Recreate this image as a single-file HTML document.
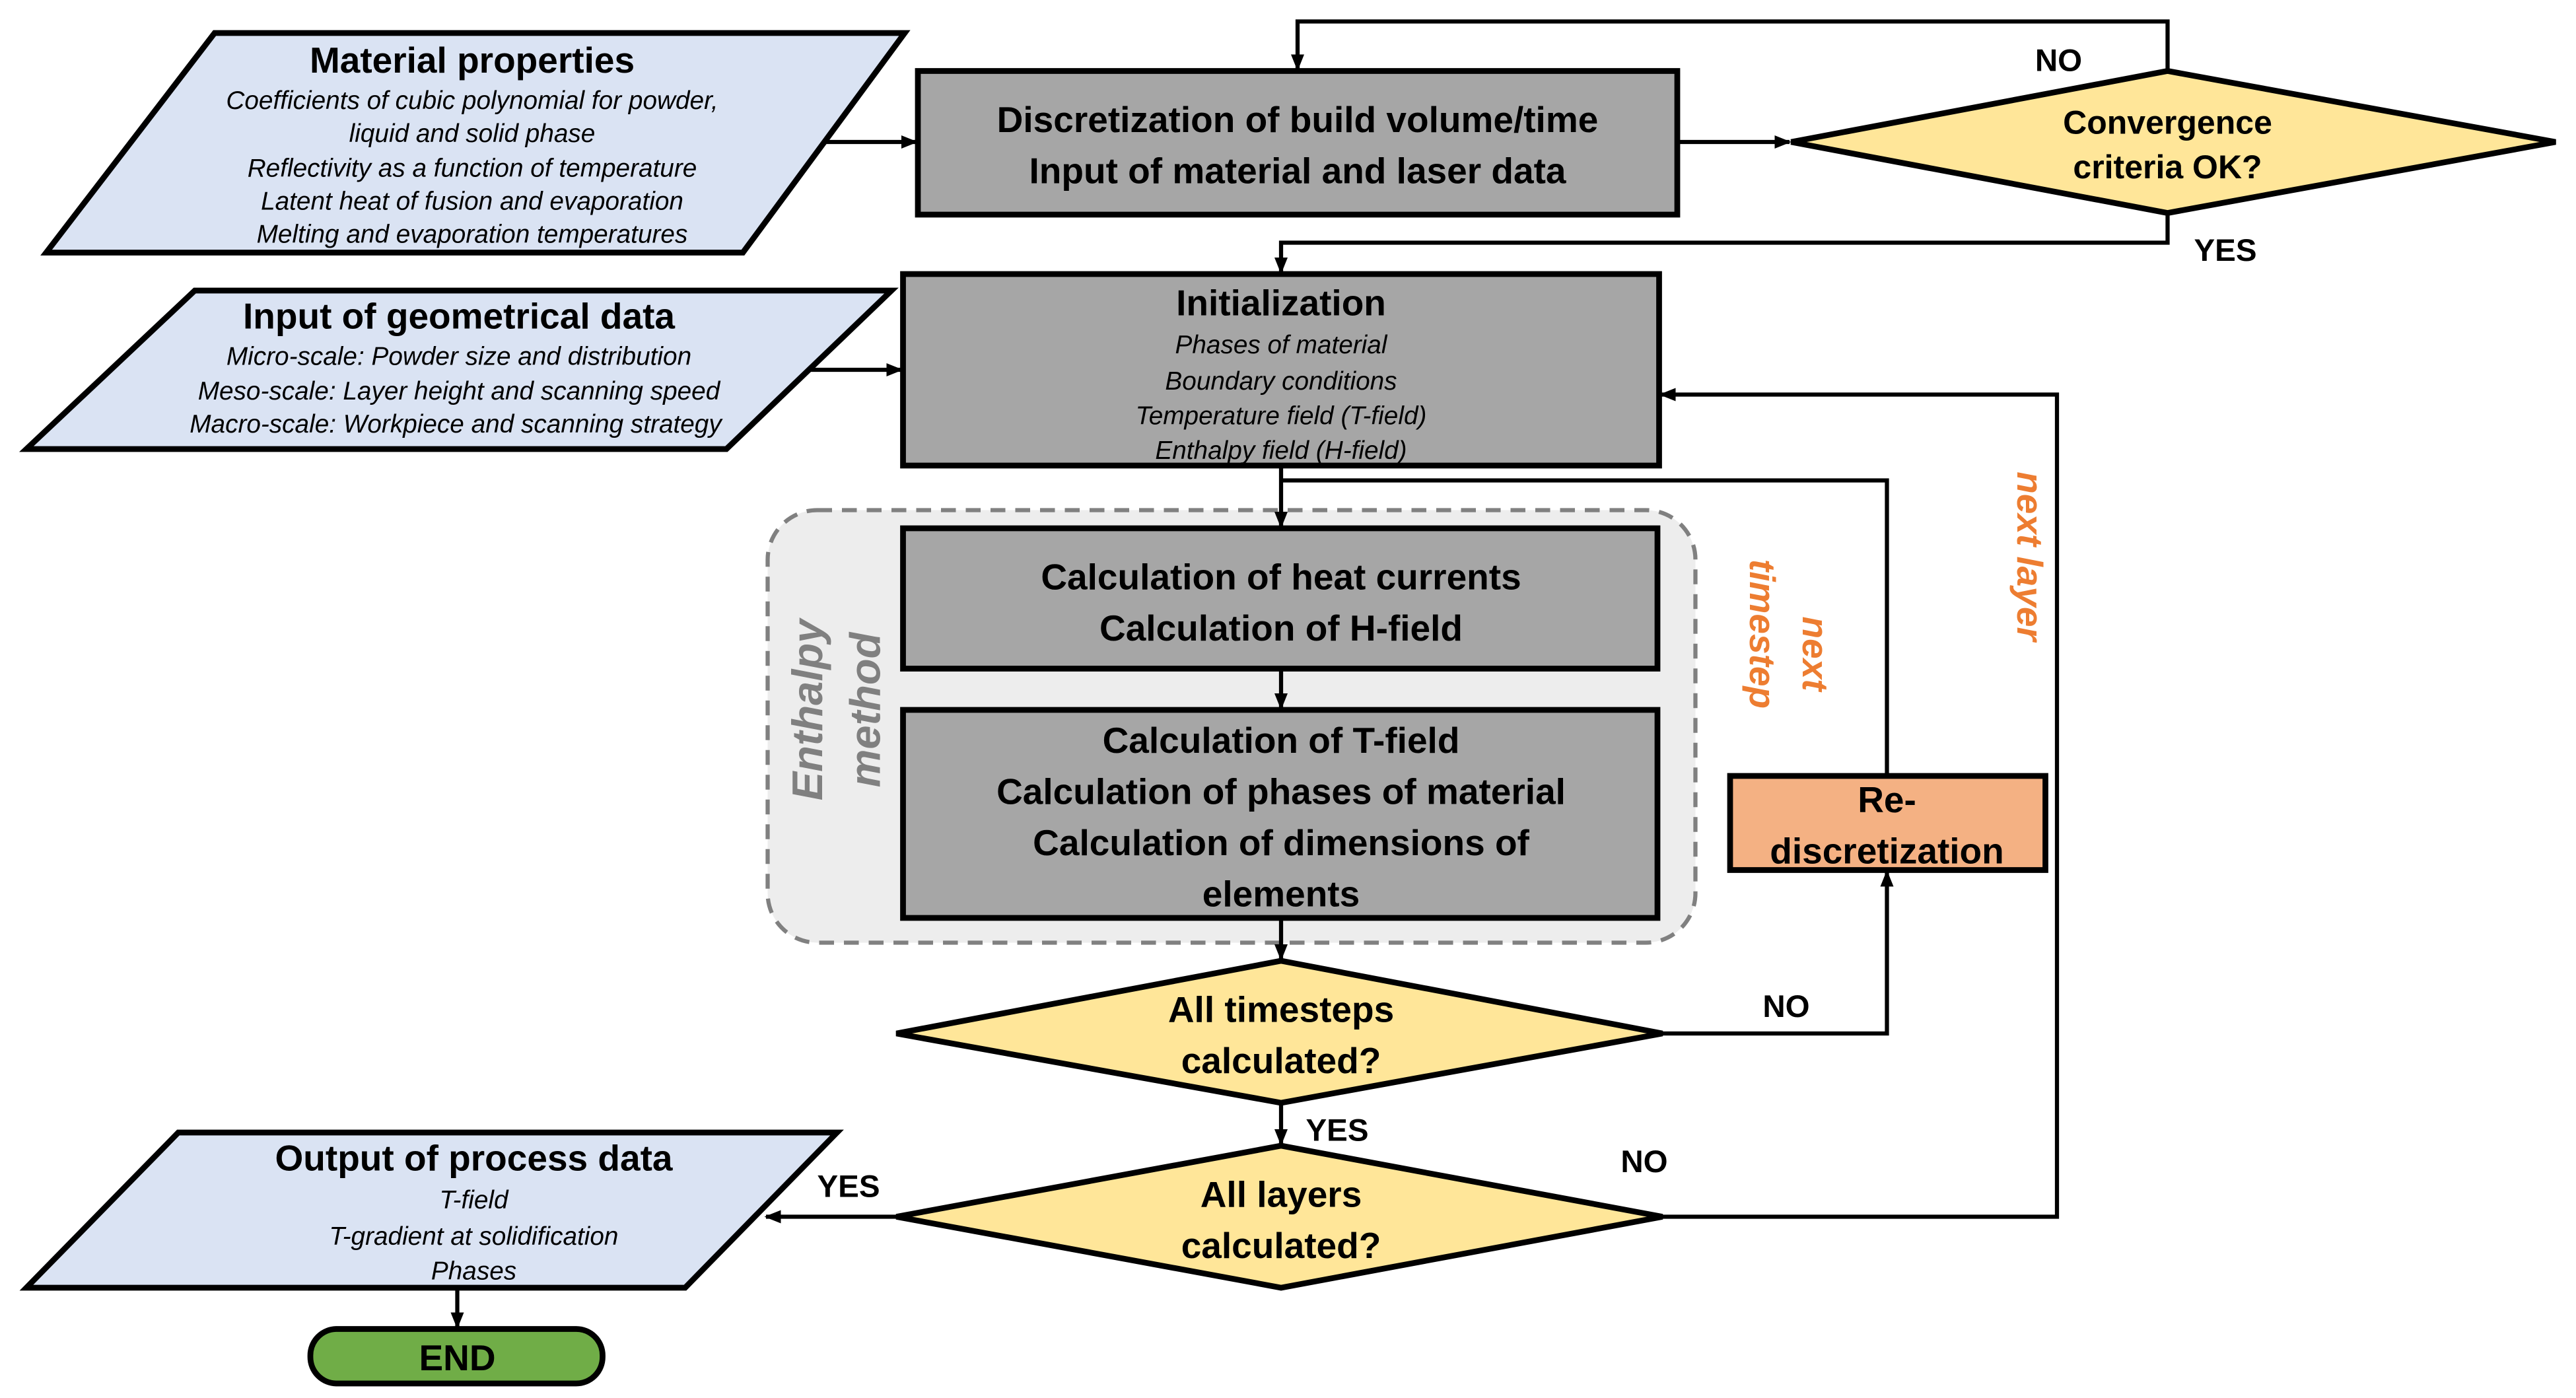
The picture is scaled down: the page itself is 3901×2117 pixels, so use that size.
<!DOCTYPE html>
<html><head><meta charset="utf-8"><style>html,body{margin:0;padding:0;background:#fff}svg{display:block}</style></head>
<body>
<svg width="3901" height="2117" viewBox="0 0 1560.4 846.8" xmlns="http://www.w3.org/2000/svg" font-family="Liberation Sans, Arial, sans-serif">
<defs><marker id="a" markerWidth="10" markerHeight="10" refX="9" refY="5" orient="auto" markerUnits="userSpaceOnUse"><path d="M0,1 L10,5 L0,9 z" fill="#000"/></marker></defs>
<rect x="465" y="309" width="562" height="262" rx="30" fill="#ededed" stroke="#808080" stroke-width="2.5" stroke-dasharray="9,6"/>
<g fill="none" stroke="#000" stroke-width="2.5">
<path d="M497,86 L555,86" marker-end="url(#a)"/>
<path d="M1016,86 L1084,86" marker-end="url(#a)"/>
<path d="M1313,43 L1313,13 L786,13 L786,42" marker-end="url(#a)"/>
<path d="M1313,129 L1313,147 L776,147 L776,165" marker-end="url(#a)"/>
<path d="M488,224 L546,224" marker-end="url(#a)"/>
<path d="M776,282 L776,319" marker-end="url(#a)"/>
<path d="M1143,470 L1143,291 L776,291"/>
<path d="M776,405 L776,429" marker-end="url(#a)"/>
<path d="M776,556 L776,581" marker-end="url(#a)"/>
<path d="M1007,626 L1143,626 L1143,528" marker-end="url(#a)"/>
<path d="M776,668 L776,693" marker-end="url(#a)"/>
<path d="M1007,737 L1246,737 L1246,239 L1006,239" marker-end="url(#a)"/>
<path d="M543,737 L464,737" marker-end="url(#a)"/>
<path d="M277,780 L277,804" marker-end="url(#a)"/>
</g>
<g stroke="#000" stroke-width="3.5">
<polygon points="130,20 548,20 450,153 28,153" fill="#dae3f3"/>
<polygon points="118,176 540,176 440,272 16,272" fill="#dae3f3"/>
<polygon points="108,686 507,686 415,780 16,780" fill="#dae3f3"/>
<rect x="188" y="805" width="177" height="33" rx="16" fill="#70ad47"/>
<rect x="556" y="43" width="460" height="87" fill="#a6a6a6"/>
<polygon points="1085,86 1313,43 1548,86 1313,129" fill="#ffe699"/>
<rect x="547" y="166" width="458" height="116" fill="#a6a6a6"/>
<rect x="547" y="320" width="457" height="85" fill="#a6a6a6"/>
<rect x="547" y="430" width="457" height="126" fill="#a6a6a6"/>
<rect x="1048" y="470" width="191" height="57" fill="#f4b183"/>
<polygon points="543,626 776,582 1007,626 776,668" fill="#ffe699"/>
<polygon points="543,737 776,694 1007,737 776,780" fill="#ffe699"/>
</g>
<g text-anchor="middle" font-weight="bold" font-size="22" fill="#000">
<text x="286" y="44">Material properties</text>
<text x="278" y="199">Input of geometrical data</text>
<text x="287" y="709">Output of process data</text>
<text x="277" y="830">END</text>
<text x="786" y="80">Discretization of build volume/time</text>
<text x="786" y="111">Input of material and laser data</text>
<text x="1313" y="81" font-size="20">Convergence</text>
<text x="1313" y="108" font-size="20">criteria OK?</text>
<text x="776" y="191">Initialization</text>
<text x="776" y="357">Calculation of heat currents</text>
<text x="776" y="388">Calculation of H-field</text>
<text x="776" y="456">Calculation of T-field</text>
<text x="776" y="487">Calculation of phases of material</text>
<text x="776" y="518">Calculation of dimensions of</text>
<text x="776" y="549">elements</text>
<text x="1143" y="492">Re-</text>
<text x="1143" y="523">discretization</text>
<text x="776" y="619">All timesteps</text>
<text x="776" y="650">calculated?</text>
<text x="776" y="731">All layers</text>
<text x="776" y="762">calculated?</text>
</g>
<g text-anchor="middle" font-style="italic" font-size="15.5" fill="#000">
<text x="286" y="66">Coefficients of cubic polynomial for powder,</text>
<text x="286" y="86">liquid and solid phase</text>
<text x="286" y="107">Reflectivity as a function of temperature</text>
<text x="286" y="127">Latent heat of fusion and evaporation</text>
<text x="286" y="147">Melting and evaporation temperatures</text>
<text x="278" y="221">Micro-scale: Powder size and distribution</text>
<text x="278" y="242">Meso-scale: Layer height and scanning speed</text>
<text x="276" y="262">Macro-scale: Workpiece and scanning strategy</text>
<text x="287" y="732">T-field</text>
<text x="287" y="754">T-gradient at solidification</text>
<text x="287" y="775">Phases</text>
<text x="776" y="214">Phases of material</text>
<text x="776" y="236">Boundary conditions</text>
<text x="776" y="257">Temperature field (T-field)</text>
<text x="776" y="278">Enthalpy field (H-field)</text>
</g>
<g font-weight="bold" font-size="19" fill="#000" text-anchor="middle">
<text x="1247" y="43">NO</text>
<text x="1348" y="158">YES</text>
<text x="1082" y="616">NO</text>
<text x="810" y="691">YES</text>
<text x="996" y="710">NO</text>
<text x="514" y="725">YES</text>
</g>
<g font-weight="bold" font-style="italic" font-size="22" fill="#ed7d31" text-anchor="middle">
<text transform="translate(1092,396) rotate(90)">next</text>
<text transform="translate(1060,384) rotate(90)">timestep</text>
<text transform="translate(1222,337) rotate(90)">next layer</text>
</g>
<g font-weight="bold" font-style="italic" font-size="26" fill="#808080" text-anchor="middle">
<text transform="translate(498,430) rotate(-90)">Enthalpy</text>
<text transform="translate(533,430) rotate(-90)">method</text>
</g>
</svg>
</body></html>
